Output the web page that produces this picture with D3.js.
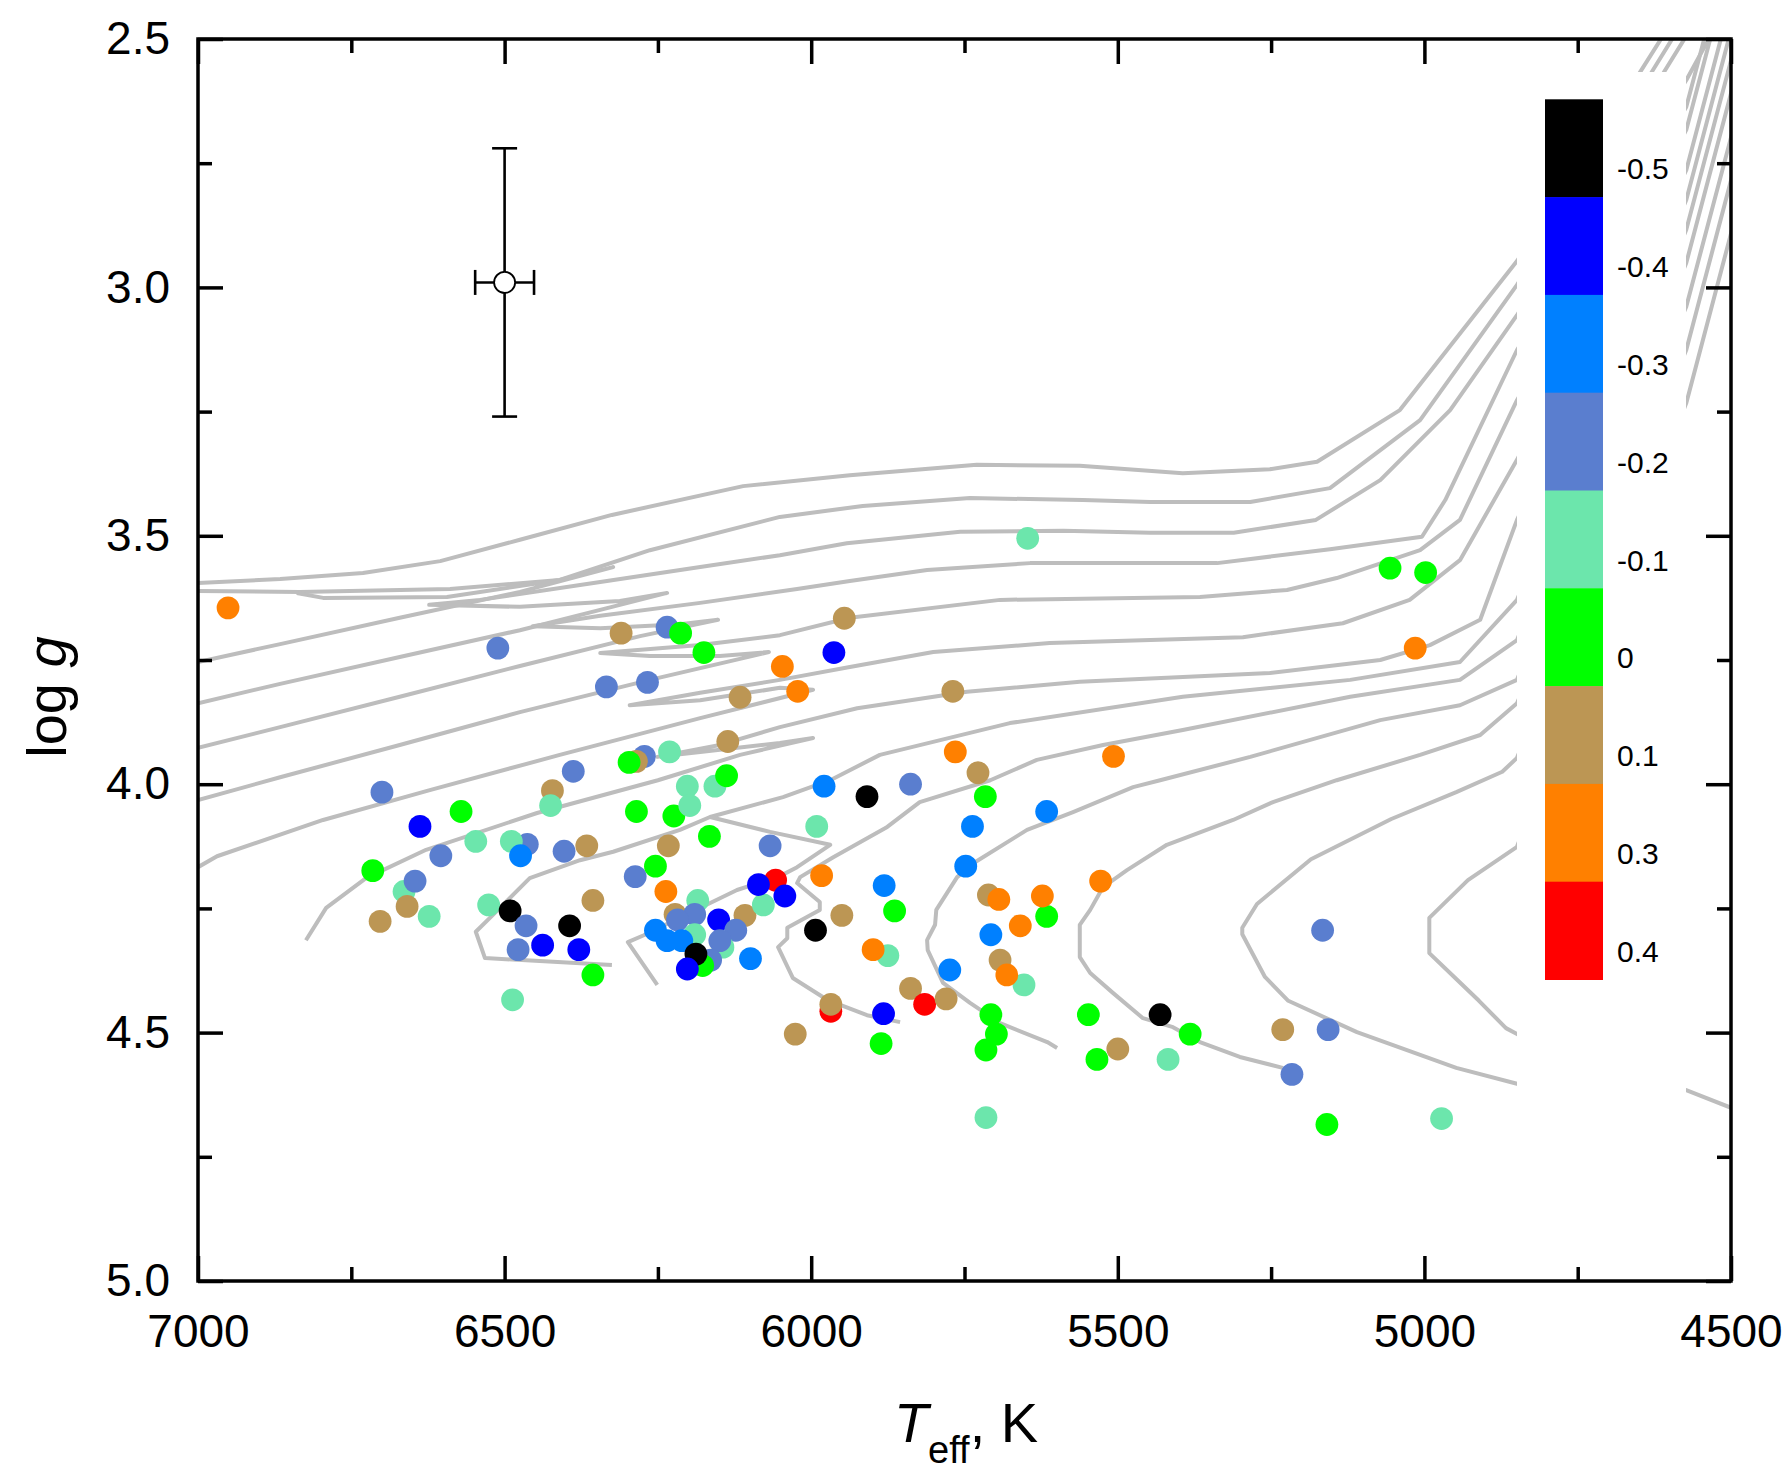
<!DOCTYPE html>
<html>
<head>
<meta charset="utf-8">
<script src="https://cdn.jsdelivr.net/npm/d3@7"></script>
<style>
  body { margin: 0; background: #fff; }
  svg { display: block; }
  text { font-family: "Liberation Sans", Arial, Helvetica, sans-serif; }
</style>
</head>
<body>
<svg id="chart"></svg>
<script>
// [Fe/H] colour classes of the colour scale
const fehLevels = [-0.5, -0.4, -0.3, -0.2, -0.1, 0, 0.1, 0.3, 0.4];
const fehColors = ['#000000', '#0000ff', '#0080ff', '#5a7ecf', '#6ce6ac', '#00ff00', '#bc9654', '#ff8000', '#ff0000'];

// axis ticks
const teffMajor = [7000, 6500, 6000, 5500, 5000, 4500];
const teffMinor = [6750, 6250, 5750, 5250, 4750];
const loggMajor = [2.5, 3.0, 3.5, 4.0, 4.5, 5.0];
const loggMinor = [2.75, 3.25, 3.75, 4.25, 4.75];

// typical error of one star: Teff, logg
const errPoint = [6500, 2.99];
const errTeff = 48;
const errLogg = 0.27;

// stars: [Teff, logg, [Fe/H]]
const stars = [
  [6951,3.645,0.3],[6715,4.174,0],[6703,4.276,0.1],[6700,4.016,-0.2],[6664,4.216,-0.1],
  [6659,4.246,0.1],[6646,4.195,-0.2],[6638,4.085,-0.4],[6623,4.266,-0.1],[6604,4.144,-0.2],
  [6571,4.055,0],[6547,4.115,-0.1],[6526,4.243,-0.1],[6511,3.726,-0.2],[6463,4.121,-0.2],
  [6489,4.115,-0.1],[6491,4.255,-0.5],[6487,4.434,-0.1],[6478,4.333,-0.2],[6474,4.144,-0.3],
  [6465,4.285,-0.2],[6438,4.324,-0.4],[6422,4.013,0.1],[6425,4.043,-0.1],[6403,4.135,-0.2],
  [6394,4.285,-0.5],[6388,3.974,-0.2],[6379,4.333,-0.4],[6366,4.124,0.1],[6356,4.234,0.1],
  [6356,4.384,0],[6334,3.804,-0.2],[6310,3.696,0.1],[6272,3.944,-0.2],[6285,3.954,0.1],
  [6297,3.956,0],[6285,4.055,0],[6287,4.186,-0.2],[6267,3.795,-0.2],[6254,4.165,0],
  [6235,3.684,-0.2],[6213,3.696,0],[6237,4.216,0.3],[6233,4.124,0.1],[6231,3.935,-0.1],
  [6224,4.064,0],[6175,3.735,0],[6202,4.004,-0.1],[6198,4.043,-0.1],[6166,4.105,0],
  [6157,4.004,-0.1],[6138,3.983,0],[6136,3.914,0.1],[6116,3.825,0.1],
  [6185,4.234,-0.1],[6222,4.262,0.1],[6190,4.262,-0.2],[6218,4.273,-0.2],[6190,4.303,-0.1],
  [6254,4.294,-0.3],[6235,4.315,-0.3],[6211,4.315,-0.3],[6151,4.273,-0.4],[6108,4.264,0.1],
  [6123,4.294,-0.2],[6144,4.328,-0.1],[6149,4.315,-0.2],[6164,4.354,-0.2],[6177,4.365,0],
  [6188,4.342,-0.5],[6202,4.372,-0.4],[6099,4.351,-0.3],
  [6078,4.243,-0.1],[6058,4.193,0.4],[6086,4.202,-0.4],[6043,4.225,-0.4],[6067,4.124,-0.2],
  [6047,3.763,0.3],[6022,3.813,0.3],[5946,3.666,0.1],[5963,3.735,-0.4],[6026,4.503,0.1],
  [5993,4.294,-0.5],[5991,4.085,-0.1],[5983,4.184,0.3],[5979,4.004,-0.3],[5968,4.457,0.4],
  [5968,4.443,0.1],[5950,4.264,0.1],[5909,4.025,-0.5],[5875,4.345,-0.1],[5899,4.333,0.3],
  [5882,4.462,-0.4],[5886,4.522,0],[5881,4.204,-0.3],[5864,4.255,0],[5838,4.000,-0.2],
  [5838,4.411,0.1],[5815,4.443,0.4],[5780,4.432,0.1],[5774,4.374,-0.3],[5769,3.813,0.1],
  [5765,3.935,0.3],[5748,4.165,-0.3],[5737,4.085,-0.3],[5728,3.977,0.1],[5716,4.025,0],
  [5711,4.223,0.1],[5694,4.232,0.3],[5715,4.671,-0.1],[5715,4.535,0],[5707,4.464,0],
  [5707,4.303,-0.3],[5698,4.503,0],[5692,4.354,0.1],[5653,4.404,-0.1],[5681,4.384,0.3],
  [5659,4.285,0.3],[5647,3.505,-0.1],[5616,4.266,0],[5623,4.225,0.3],[5616,4.055,-0.3],
  [5548,4.464,0],[5534,4.554,0],[5528,4.195,0.3],[5507,3.944,0.3],[5500,4.533,0.1],
  [5431,4.464,-0.5],[5418,4.554,-0.1],[5382,4.503,0],[5231,4.494,0.1],[5216,4.584,-0.2],
  [5166,4.294,-0.2],[5157,4.494,-0.2],[5159,4.685,0],[5056,3.565,0],[5015,3.726,0.3],
  [4998,3.574,0],[4972,4.673,-0.1]
];

// evolutionary tracks: [Teff, logg]
const trackA = [[7000,3.595],[6866,3.587],[6731,3.575],[6605,3.551],[6475,3.508],[6325,3.458],[6111,3.400],[5937,3.378],[5730,3.357],[5562,3.359],[5394,3.374],[5252,3.366],[5175,3.351],[5040,3.247],[4849,2.947],[4648,2.566],[4608,2.488]];
const trackB = [[7000,3.611],[6834,3.613],[6589,3.607],[6410,3.589],[6263,3.529],[6051,3.462],[5916,3.440],[5741,3.424],[5557,3.428],[5447,3.432],[5284,3.432],[5154,3.404],[5007,3.267],[4849,2.995],[4629,2.566],[4590,2.488]];
const trackC = [[7000,3.754],[6866,3.718],[6671,3.665],[6475,3.613],[6323,3.563],[6410,3.589],[6594,3.623],[6796,3.625],[6839,3.615]];
const trackD = [[7000,3.837],[6866,3.798],[6671,3.744],[6475,3.690],[6312,3.639],[6235,3.615],[6312,3.631],[6475,3.643],[6623,3.639],[6540,3.629],[6344,3.593],[6181,3.563],[6051,3.539],[5942,3.515],[5757,3.492],[5589,3.490],[5447,3.494],[5311,3.494],[5177,3.468],[5072,3.388],[4958,3.247],[4849,3.056],[4609,2.566],[4570,2.488]];
const trackE = [[7000,3.927],[6866,3.885],[6671,3.824],[6475,3.762],[6279,3.702],[6152,3.669],[6214,3.678],[6344,3.686],[6454,3.682],[6344,3.661],[6181,3.635],[6023,3.607],[5937,3.591],[5811,3.569],[5643,3.555],[5338,3.555],[5154,3.527],[5004,3.502],[4966,3.428],[4849,3.126],[4573,2.583],[4531,2.488]];
const trackF = [[7000,4.032],[6866,3.986],[6671,3.921],[6475,3.855],[6263,3.790],[6069,3.734],[6149,3.742],[6263,3.742],[6344,3.736],[6181,3.720],[6051,3.700],[5937,3.665],[5692,3.629],[5366,3.623],[5224,3.609],[5143,3.585],[5007,3.529],[4942,3.468],[4849,3.227],[4573,2.637],[4477,2.188]];
const trackG = [[7000,4.167],[6969,4.145],[6796,4.072],[6622,4.012],[6410,3.941],[6181,3.867],[5997,3.810],[6051,3.806],[6181,3.831],[6296,3.841],[6181,3.816],[6051,3.790],[5937,3.764],[5801,3.734],[5611,3.716],[5296,3.704],[5133,3.676],[5024,3.629],[4942,3.549],[4849,3.347],[4573,2.683],[4477,2.234]];
const trackH = [[6824,4.314],[6791,4.249],[6726,4.189],[6628,4.132],[6447,4.058],[6250,3.992],[6116,3.941],[5997,3.907],[6051,3.917],[6181,3.935],[6251,3.945],[6149,3.921],[6051,3.885],[5925,3.847],[5746,3.814],[5562,3.794],[5252,3.776],[5072,3.750],[4991,3.720],[4909,3.669],[4849,3.468],[4573,2.764],[4477,2.315]];
const trackI = [[6325,4.364],[6532,4.350],[6547,4.297],[6519,4.263],[6459,4.189],[6377,4.153],[6323,4.136],[6214,4.092],[6165,4.066],[6046,4.026],[5969,3.992],[5888,3.941],[5676,3.877],[5394,3.824],[5121,3.790],[4942,3.754],[4849,3.629],[4573,2.824],[4477,2.375]];
const trackP = [[6251,4.404],[6299,4.318],[6273,4.304],[6121,4.213],[6051,4.185],[6023,4.167],[5969,4.122],[6067,4.096],[6165,4.066]];
const trackQ = [[5855,4.479],[5909,4.465],[5974,4.434],[6030,4.390],[6054,4.328],[6039,4.310],[6039,4.289],[5986,4.253],[5986,4.237],[6023,4.199],[6018,4.187],[5964,4.147],[5876,4.086],[5823,4.036],[5708,3.992],[5632,3.951],[5524,3.921],[5394,3.891],[5121,3.824],[4942,3.790],[4849,3.710],[4573,2.884],[4477,2.436]];
const trackM = [[5599,4.531],[5615,4.519],[5692,4.481],[5741,4.440],[5785,4.400],[5810,4.334],[5811,4.314],[5798,4.283],[5796,4.253],[5762,4.187],[5733,4.157],[5648,4.092],[5573,4.056],[5475,4.006],[5431,3.992],[5284,3.945],[5072,3.871],[4942,3.841],[4849,3.790],[4573,2.951],[4477,2.502]];
const trackN = [[5231,4.571],[5301,4.549],[5366,4.519],[5410,4.489],[5459,4.471],[5508,4.420],[5545,4.380],[5562,4.348],[5562,4.283],[5545,4.253],[5524,4.207],[5485,4.173],[5420,4.122],[5312,4.072],[5247,4.036],[5143,3.992],[5007,3.941],[4909,3.901],[4849,3.837],[4573,3.039],[4477,2.591]];
const trackO = [[4803,4.620],[4849,4.603],[4948,4.571],[5110,4.499],[5222,4.436],[5260,4.388],[5297,4.302],[5297,4.289],[5273,4.241],[5185,4.151],[5054,4.070],[4948,4.016],[4873,3.975],[4849,3.947],[4573,3.126],[4477,2.677]];
const trackR = [[4453,4.674],[4573,4.616],[4849,4.503],[4867,4.491],[4911,4.436],[4948,4.392],[4992,4.340],[4992,4.269],[4929,4.193],[4849,4.126],[4573,3.233],[4477,2.784]];
const tracks = [trackA, trackB, trackC, trackD, trackE, trackF, trackG, trackH, trackI, trackP, trackQ, trackM, trackN, trackO, trackR];

const W = 1792, H = 1478;
const plot = { left: 198, right: 1731, top: 39, bottom: 1281 };

const svg = d3.select('#chart').attr('width', W).attr('height', H);

const x = d3.scaleLinear().domain([7000, 4500]).range([plot.left, plot.right]);
const y = d3.scaleLinear().domain([2.5, 5.0]).range([plot.top, plot.bottom]);
const fehColor = d3.scaleOrdinal().domain(fehLevels).range(fehColors);

svg.append('defs').append('clipPath').attr('id', 'plot-clip')
    .append('rect')
    .attr('x', plot.left).attr('y', plot.top)
    .attr('width', plot.right - plot.left).attr('height', plot.bottom - plot.top);

// tracks
const line = d3.line().x(d => x(d[0])).y(d => y(d[1]));
svg.append('g')
    .attr('clip-path', 'url(#plot-clip)')
    .selectAll('path')
    .data(tracks)
    .join('path')
    .attr('d', line)
    .attr('fill', 'none')
    .attr('stroke', '#bdbdbd')
    .attr('stroke-width', 4)
    .attr('stroke-linejoin', 'round');

// white background of the colour scale hides the tracks behind it
svg.append('rect')
    .attr('x', 1517).attr('y', 72)
    .attr('width', 169).attr('height', 1028)
    .attr('fill', '#fff');

// colour scale
const band = d3.scaleBand().domain(fehLevels).range([99.3, 979.5]);
const cb = svg.append('g');
cb.selectAll('rect')
    .data(fehLevels)
    .join('rect')
    .attr('x', 1545).attr('width', 58)
    .attr('y', d => band(d))
    .attr('height', band.bandwidth() + 0.5)
    .attr('fill', d => fehColor(d));
cb.selectAll('text')
    .data(fehLevels)
    .join('text')
    .attr('x', 1617)
    .attr('y', d => band(d) + 80)
    .attr('font-size', 30)
    .attr('fill', '#000')
    .text(d => String(d));

// stars
svg.append('g')
    .selectAll('circle')
    .data(stars)
    .join('circle')
    .attr('cx', d => x(d[0]))
    .attr('cy', d => y(d[1]))
    .attr('r', 11.4)
    .attr('fill', d => fehColor(d[2]));

// error bar sample
const eb = svg.append('g').attr('stroke', '#000').attr('stroke-width', 2.6);
const ex = x(errPoint[0]), ey = y(errPoint[1]);
const cap = 12.5;
eb.append('line').attr('x1', ex).attr('x2', ex).attr('y1', y(errPoint[1] - errLogg)).attr('y2', y(errPoint[1] + errLogg));
eb.append('line').attr('x1', ex - cap).attr('x2', ex + cap).attr('y1', y(errPoint[1] - errLogg)).attr('y2', y(errPoint[1] - errLogg));
eb.append('line').attr('x1', ex - cap).attr('x2', ex + cap).attr('y1', y(errPoint[1] + errLogg)).attr('y2', y(errPoint[1] + errLogg));
eb.append('line').attr('x1', x(errPoint[0] + errTeff)).attr('x2', x(errPoint[0] - errTeff)).attr('y1', ey).attr('y2', ey);
eb.append('line').attr('x1', x(errPoint[0] + errTeff)).attr('x2', x(errPoint[0] + errTeff)).attr('y1', ey - cap).attr('y2', ey + cap);
eb.append('line').attr('x1', x(errPoint[0] - errTeff)).attr('x2', x(errPoint[0] - errTeff)).attr('y1', ey - cap).attr('y2', ey + cap);
eb.append('circle').attr('cx', ex).attr('cy', ey).attr('r', 10.5).attr('fill', '#fff').attr('stroke-width', 1.8);

// axes, ticks pointing inward on all four sides
function styleAxis(g) {
    g.select('.domain').remove();
    g.selectAll('.tick line').attr('stroke', '#000').attr('stroke-width', 3.5);
    g.selectAll('.tick text')
        .attr('font-size', 46)
        .attr('font-family', '"Liberation Sans", Arial, Helvetica, sans-serif')
        .attr('fill', '#000');
}
const none = () => '';

svg.append('g').attr('transform', `translate(0,${plot.bottom})`)
    .call(d3.axisBottom(x).tickValues(teffMajor).tickSizeInner(-25).tickSizeOuter(0).tickPadding(33).tickFormat(d3.format('d')))
    .call(styleAxis);
svg.append('g').attr('transform', `translate(0,${plot.bottom})`)
    .call(d3.axisBottom(x).tickValues(teffMinor).tickSizeInner(-14).tickSizeOuter(0).tickFormat(none))
    .call(styleAxis);
svg.append('g').attr('transform', `translate(0,${plot.top})`)
    .call(d3.axisTop(x).tickValues(teffMajor).tickSizeInner(-25).tickSizeOuter(0).tickFormat(none))
    .call(styleAxis);
svg.append('g').attr('transform', `translate(0,${plot.top})`)
    .call(d3.axisTop(x).tickValues(teffMinor).tickSizeInner(-14).tickSizeOuter(0).tickFormat(none))
    .call(styleAxis);
svg.append('g').attr('transform', `translate(${plot.left},0)`)
    .call(d3.axisLeft(y).tickValues(loggMajor).tickSizeInner(-25).tickSizeOuter(0).tickPadding(28).tickFormat(d3.format('.1f')))
    .call(styleAxis);
svg.append('g').attr('transform', `translate(${plot.left},0)`)
    .call(d3.axisLeft(y).tickValues(loggMinor).tickSizeInner(-14).tickSizeOuter(0).tickFormat(none))
    .call(styleAxis);
svg.append('g').attr('transform', `translate(${plot.right},0)`)
    .call(d3.axisRight(y).tickValues(loggMajor).tickSizeInner(-25).tickSizeOuter(0).tickFormat(none))
    .call(styleAxis);
svg.append('g').attr('transform', `translate(${plot.right},0)`)
    .call(d3.axisRight(y).tickValues(loggMinor).tickSizeInner(-14).tickSizeOuter(0).tickFormat(none))
    .call(styleAxis);

// frame
svg.append('rect')
    .attr('x', plot.left).attr('y', plot.top)
    .attr('width', plot.right - plot.left).attr('height', plot.bottom - plot.top)
    .attr('fill', 'none').attr('stroke', '#000').attr('stroke-width', 3.5);

// axis titles
const yTitle = svg.append('text')
    .attr('transform', 'translate(66,697) rotate(-90)')
    .attr('text-anchor', 'middle')
    .attr('font-size', 56)
    .attr('fill', '#000');
yTitle.append('tspan').text('log ');
yTitle.append('tspan').attr('font-style', 'italic').text('g');

const xTitle = svg.append('text')
    .attr('x', 966).attr('y', 1442)
    .attr('text-anchor', 'middle')
    .attr('font-size', 56)
    .attr('fill', '#000');
xTitle.append('tspan').attr('font-style', 'italic').text('T');
xTitle.append('tspan').attr('font-size', 38).attr('dy', 21).text('eff');
xTitle.append('tspan').attr('dy', -21).text(', K');
</script>
</body>
</html>
